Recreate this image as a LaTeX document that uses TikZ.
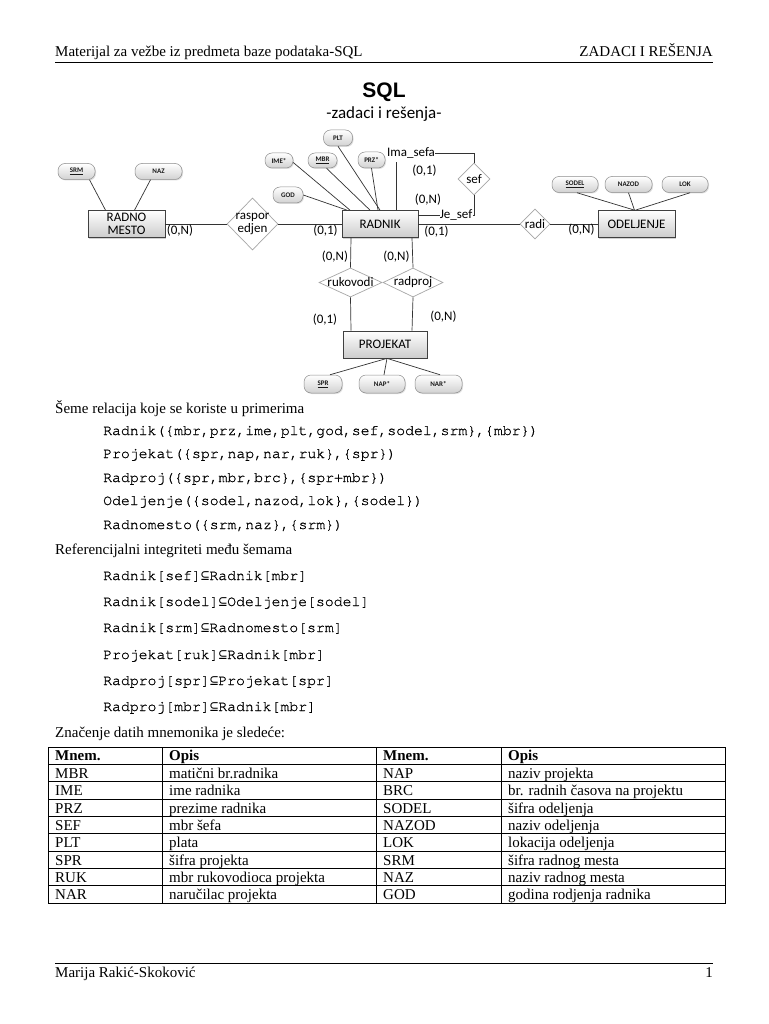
\documentclass[tikz,border=0pt]{standalone}
\usepackage{fontspec}
\setmainfont{Liberation Serif}
\setmonofont{TeX Gyre Cursor}[FakeBold=0.8]
\newfontfamily\erfont{Carlito}
\newfontfamily\ttlfont{Liberation Sans}
\newfontfamily\symfont{DejaVu Sans Mono}
\usetikzlibrary{shapes.geometric,shadows,calc}
\newcommand{\mysub}{{\symfont\fontsize{14.2}{16}\selectfont ⊆}}
\begin{document}
\begin{tikzpicture}[x=1pt,y=-1pt,
  entity/.style={draw=black!75, line width=0.7pt, top color=white, bottom color=black!20,
    drop shadow={shadow xshift=1.3pt,shadow yshift=-1.3pt,opacity=0.35},
    inner sep=0pt, font=\erfont\fontsize{13}{13.5}\selectfont, align=center},
  attr/.style={draw=black!45, line width=0.5pt, rounded corners=7pt, top color=white, bottom color=black!18,
    drop shadow={shadow xshift=1pt,shadow yshift=-1pt,opacity=0.25},
    inner sep=0pt, text=black!90, font=\erfont\bfseries\fontsize{7}{7.5}\selectfont},
  rel/.style={diamond, draw=black!35, line width=0.7pt, fill=white, inner sep=0pt},
  lbl/.style={font=\erfont\fontsize{13}{13.5}\selectfont, inner sep=0pt, text=black},
  lnk/.style={draw=black!80, line width=0.7pt},
  body/.style={anchor=base west, inner sep=0pt, font=\fontsize{15}{18}\selectfont},
  code/.style={anchor=base west, inner sep=0pt, font=\ttfamily\fontsize{14.8}{18}\selectfont},
  cell/.style={anchor=base west, inner sep=0pt, font=\fontsize{15}{18}\selectfont},
  hcell/.style={cell, font=\bfseries\fontsize{15}{18}\selectfont},
  rule/.style={draw=black, line width=1.3pt}
]
\fill[white] (0,0) rectangle (768,1024);
\useasboundingbox (0,0) rectangle (768,1024);

% ---------- header ----------
\node[body] (hl) at (55,57) {Materijal za vežbe iz predmeta baze podataka-SQL};
\node[body, anchor=base east] (hr) at (713,57) {ZADACI I REŠENJA};
\coordinate (hrA) at (55,62.5);
\coordinate (hrB) at (713,62.5);
\draw[rule] (hrA) -- (hrB);

\node[inner sep=0pt, anchor=base, font=\ttlfont\bfseries\fontsize{21}{24}\selectfont] (title) at (384,97.5) {SQL};
\node[inner sep=0pt, anchor=base, font=\erfont\fontsize{17}{20}\selectfont] (sub) at (384,118.5) {-zadaci i rešenja-};

% ---------- ER diagram: entities ----------
\node[entity, minimum width=76pt, minimum height=27pt] (rad) at (380,224) {RADNIK};
\node[entity, minimum width=77pt, minimum height=27pt] (rm) at (126.5,224) {RADNO\\MESTO};
\node[entity, minimum width=77pt, minimum height=27pt] (odel) at (636.5,224) {ODELJENJE};
\node[entity, minimum width=84pt, minimum height=27pt] (proj) at (385,344.5) {PROJEKAT};

% relationships
\node[rel, minimum width=51pt, minimum height=52pt] (rasp) at (252.5,224) {};
\node[lbl, align=center] (raspT) at (rasp) {raspor\\edjen};
\node[rel, minimum width=30pt, minimum height=30pt] (radi) at (535,224) {};
\node[lbl] (radiT) at (radi) {radi};
\node[rel, minimum width=32pt, minimum height=32pt] (sef) at (474,179) {};
\node[lbl] (sefT) at (sef) {sef};
\node[rel, minimum width=63pt, minimum height=29pt] (ruk) at (350.5,282.5) {};
\node[lbl] (rukT) at (ruk) {rukovodi};
\node[rel, minimum width=60pt, minimum height=29pt] (rp) at (413,282.5) {};
\node[lbl] (rpT) at (rp) {radproj};

% attributes
\node[attr, minimum width=37pt, minimum height=16pt] (srm) at (76.5,171.5) {\underline{SRM}};
\node[attr, minimum width=47pt, minimum height=16pt] (naz) at (158.5,171.5) {NAZ};
\node[attr, minimum width=28pt, minimum height=15pt] (ime) at (279,160.5) {IME*};
\node[attr, minimum width=29pt, minimum height=15pt] (mbr) at (322.5,160.5) {\underline{MBR}};
\node[attr, minimum width=29pt, minimum height=16pt] (plt) at (338,138) {PLT};
\node[attr, minimum width=27pt, minimum height=16pt] (prz) at (371.5,160) {PRZ*};
\node[attr, minimum width=30pt, minimum height=16pt] (god) at (288,195) {GOD};
\node[attr, minimum width=46pt, minimum height=16pt] (sodel) at (575,184.5) {\underline{SODEL}};
\node[attr, minimum width=47pt, minimum height=16pt] (nazod) at (628.5,184.5) {NAZOD};
\node[attr, minimum width=46pt, minimum height=16pt] (lok) at (685,184.5) {LOK};
\node[attr, minimum width=38pt, minimum height=18pt] (spr) at (323,384) {\underline{SPR}};
\node[attr, minimum width=46pt, minimum height=18pt] (nap) at (382,384) {NAP*};
\node[attr, minimum width=47pt, minimum height=18pt] (nar) at (438.5,384) {NAR*};

% attribute links
\draw[lnk] ([xshift=13pt]srm.south) -- ([xshift=-21pt]rm.north);
\draw[lnk] ([xshift=-8pt]naz.south) -- ([xshift=8pt]rm.north);
\draw[lnk] (god.east) -- ([xshift=-33pt]rad.north);
\draw[lnk] ([yshift=-2pt]ime.east) -- ([xshift=-30pt]rad.north);
\draw[lnk] ([xshift=4pt]mbr.south) -- ([xshift=-10pt]rad.north);
\draw[lnk] (plt.south) -- (rad.north);
\draw[lnk] (prz.south) -- ([xshift=-2pt]rad.north);
\draw[lnk] ([xshift=2pt]sodel.south) -- ([xshift=-2pt]odel.north);
\draw[lnk] (nazod.south) -- ([xshift=-2pt]odel.north);
\draw[lnk] ([xshift=5pt]lok.south) -- ([xshift=-1pt]odel.north);
\draw[lnk] ([xshift=2pt]proj.south) -- ([xshift=7pt]spr.north);
\draw[lnk] ([xshift=2pt]proj.south) -- ([xshift=2pt]nap.north);
\draw[lnk] ([xshift=2pt]proj.south) -- ([xshift=1.5pt]nar.north);

% relationship links
\draw[lnk] (rm.east) -- (rasp.west);
\draw[lnk] (rasp.east) -- (rad.west);
\draw[lnk] (rad.east) -- (radi.west);
\draw[lnk] (radi.east) -- (odel.west);

\node[lbl, anchor=west] (ima) at (387,153) {Ima\_sefa};
\coordinate (imab) at (396.5,162);
\draw[lnk] ([xshift=16.5pt]rad.north) -- (imab);
\draw[lnk] (ima.east) -- (ima.east -| sef.north) -- (sef.north);
\node[lbl, anchor=east] (je) at (472.5,215) {Je\_sef};
\draw[lnk] (sef.south) -- (sef.south |- je.east) -- (je.east);
\draw[lnk] (je.west) -- (je.west -| rad.east);

\draw[lnk] ([xshift=-29pt]rad.south) -- (ruk.north);
\draw[lnk] ([xshift=32pt]rad.south) -- (rp.north);
\draw[lnk] (ruk.south) -- ([xshift=-34pt]proj.north);
\draw[lnk] (rp.south) -- ([xshift=27pt]proj.north);

% cardinalities
\node[lbl] (k1) at (180,231) {(0,N)};
\node[lbl] (k2) at (325.5,231) {(0,1)};
\node[lbl] (k3) at (424.5,171) {(0,1)};
\node[lbl] (k4) at (428,200) {(0,N)};
\node[lbl] (k5) at (436.5,232) {(0,1)};
\node[lbl] (k6) at (581.5,230) {(0,N)};
\node[lbl] (k7) at (335,257) {(0,N)};
\node[lbl] (k8) at (396.5,257) {(0,N)};
\node[lbl] (k9) at (325,320) {(0,1)};
\node[lbl] (k10) at (443.5,317) {(0,N)};

% ---------- relation schemes ----------
\node[body] (s1) at (55,413) {Šeme relacija koje se koriste u primerima};
\node[code] (c1) at (103,435) {Radnik(\{mbr,prz,ime,plt,god,sef,sodel,srm\},\{mbr\})};
\node[code] (c2) at (103,458) {Projekat(\{spr,nap,nar,ruk\},\{spr\})};
\node[code] (c3) at (103,482) {Radproj(\{spr,mbr,brc\},\{spr+mbr\})};
\node[code] (c4) at (103,505) {Odeljenje(\{sodel,nazod,lok\},\{sodel\})};
\node[code] (c5) at (103,529) {Radnomesto(\{srm,naz\},\{srm\})};

\node[body] (s2) at (55,554) {Referencijalni integriteti među šemama};
\node[code] (r1) at (103,580) {Radnik[sef]\mysub{}Radnik[mbr]};
\node[code] (r2) at (103,606) {Radnik[sodel]\mysub{}Odeljenje[sodel]};
\node[code] (r3) at (103,632) {Radnik[srm]\mysub{}Radnomesto[srm]};
\node[code] (r4) at (103,659) {Projekat[ruk]\mysub{}Radnik[mbr]};
\node[code] (r5) at (103,685) {Radproj[spr]\mysub{}Projekat[spr]};
\node[code] (r6) at (103,711) {Radproj[mbr]\mysub{}Radnik[mbr]};

\node[body] (s3) at (55,737) {Značenje datih mnemonika je sledeće:};

% ---------- table ----------
\draw[line width=0.9pt] (48,747) rectangle (725,903);
\foreach \x in {162,376,501} { \draw[line width=0.8pt] (\x,747) -- (\x,903); }
\foreach \k in {0,...,7} { \draw[line width=0.8pt] (48,764.5+\k*17.3125) -- (725,764.5+\k*17.3125); }
\node[hcell] (h1) at (55,760.5) {Mnem.};
\node[hcell] (h2) at (169,760.5) {Opis};
\node[hcell] (h3) at (383,760.5) {Mnem.};
\node[hcell] (h4) at (508,760.5) {Opis};
\foreach \i/\a/\b/\c/\d in {
  0/MBR/matični br.radnika/NAP/naziv projekta,
  1/IME/ime radnika/BRC/br. radnih časova na projektu,
  2/PRZ/prezime radnika/SODEL/šifra odeljenja,
  3/SEF/mbr šefa/NAZOD/naziv odeljenja,
  4/PLT/plata/LOK/lokacija odeljenja,
  5/SPR/šifra projekta/SRM/šifra radnog mesta,
  6/RUK/mbr rukovodioca projekta/NAZ/naziv radnog mesta,
  7/NAR/naručilac projekta/GOD/godina rodjenja radnika} {
  \node[cell] (ta\i) at (55,778.5+\i*17.3125) {\a};
  \node[cell] (tb\i) at (169,778.5+\i*17.3125) {\b};
  \node[cell] (tc\i) at (383,778.5+\i*17.3125) {\c};
  \node[cell] (td\i) at (508,778.5+\i*17.3125) {\d};
}

% ---------- footer ----------
\coordinate (frA) at (55,963);
\coordinate (frB) at (713,963);
\draw[draw=black, line width=0.9pt] (frA) -- (frB);
\node[body] (f1) at (55,977) {Marija Rakić-Skoković};
\node[body, anchor=base east] (f2) at (713,977) {1};
\end{tikzpicture}
\end{document}
